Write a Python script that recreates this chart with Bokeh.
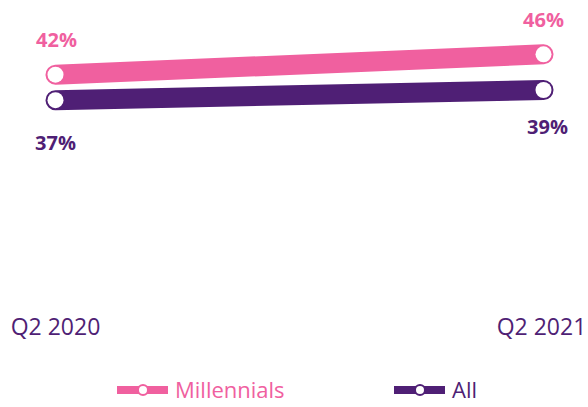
from bokeh.plotting import figure
from bokeh.models import ColumnDataSource, Range1d, Legend, LegendItem
from bokeh.core.properties import value
from bokeh.embed import file_html
from bokeh.resources import INLINE

# ---- data ----
periods = ["Q2 2020", "Q2 2021"]
period_idx = [0, 1]
millennials = [42, 46]
all_adults = [37, 39]
millennial_labels = ["42%", "46%"]
all_labels = ["37%", "39%"]

PINK = "#F0609F"
PURPLE = "#4F1F75"
FONT = "Open Sans"

p = figure(width=588, height=407, output_backend="svg", toolbar_location=None,
           x_range=Range1d(-0.1127, 1.0922), y_range=Range1d(-23.25, 56.55),
           min_border=0, outline_line_color=None)
p.axis.visible = False
p.grid.visible = False
p.background_fill_color = None
p.border_fill_color = None

src_m = ColumnDataSource(dict(x=period_idx, y=millennials, t=millennial_labels,
                              xo=[1, 0], yo=[-35, -35]))
src_a = ColumnDataSource(dict(x=period_idx, y=all_adults, t=all_labels,
                              xo=[0, 4], yo=[42, 36]))

for src, col in ((src_m, PINK), (src_a, PURPLE)):
    p.line("x", "y", source=src, line_width=20, line_color=col, line_cap="round")
    p.scatter("x", "y", source=src, size=16, fill_color="white", line_color=None)
    p.text("x", "y", text="t", source=src, x_offset="xo", y_offset="yo",
           text_font=value(FONT), text_font_style="bold", text_font_size="20px",
           text_color=col, text_align="center", text_baseline="middle")

# x labels (period names)
y_lab = -7.27
src_p = ColumnDataSource(dict(x=period_idx, y=[y_lab, y_lab], t=periods,
                              xo=[0, -2]))
p.text("x", "y", text="t", source=src_p, x_offset="xo", text_align="center",
       text_font=value(FONT), text_font_size="23px", text_color=PURPLE,
       text_baseline="middle")

# legend renderers (one off-screen NaN point each, only used as legend swatches)
nan = float("nan")
def legend_for(label, col, x):
    ln = p.line(x=[nan], y=[nan], line_width=8, line_color=col, line_cap="round")
    mk = p.scatter(x=[nan], y=[nan], size=10, fill_color="white", line_color=col, line_width=2)
    lg = Legend(items=[LegendItem(label=label, renderers=[ln, mk])],
                location=(x, 3), glyph_width=51, glyph_height=25, label_height=25,
                label_standoff=7, padding=0, margin=0, spacing=0,
                border_line_color=None, background_fill_alpha=0,
                label_text_font=FONT, label_text_font_size="22px",
                label_text_color=col)
    p.add_layout(lg, "center")

legend_for("Millennials", PINK, 117)
legend_for("All", PURPLE, 394)

open("out.html", "w").write(file_html(p, INLINE))
